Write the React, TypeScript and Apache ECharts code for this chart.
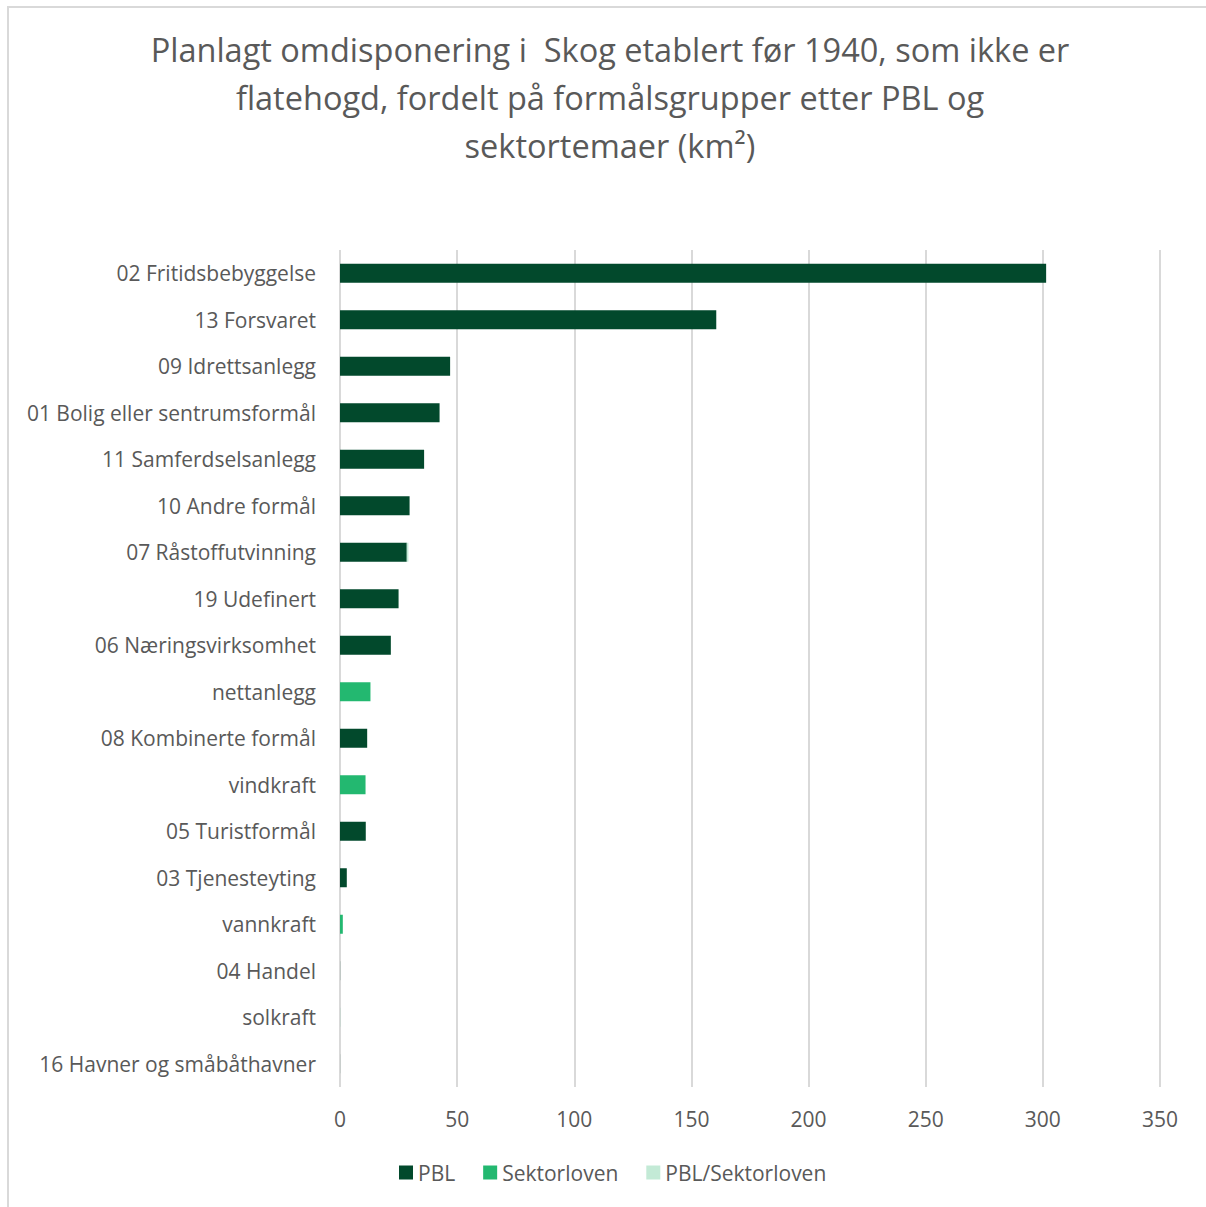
import React, { useEffect, useRef } from "react";
import * as echarts from "echarts";

const titleLines = [
  "Planlagt omdisponering i  Skog etablert før 1940, som ikke er",
  "flatehogd, fordelt på formålsgrupper etter PBL og",
  "sektortemaer (km²)",
];

const categories = [
  "02 Fritidsbebyggelse",
  "13 Forsvaret",
  "09 Idrettsanlegg",
  "01 Bolig eller sentrumsformål",
  "11 Samferdselsanlegg",
  "10 Andre formål",
  "07 Råstoffutvinning",
  "19 Udefinert",
  "06 Næringsvirksomhet",
  "nettanlegg",
  "08 Kombinerte formål",
  "vindkraft",
  "05 Turistformål",
  "03 Tjenesteyting",
  "vannkraft",
  "04 Handel",
  "solkraft",
  "16 Havner og småbåthavner",
];

const seriesNames = ["PBL", "Sektorloven", "PBL/Sektorloven"];

const pbl = [301.4, 160.6, 47.0, 42.5, 35.9, 29.7, 28.5, 25.0, 21.7, 0, 11.6, 0, 11.0, 2.9, 0, 0.05, 0, 0.03];
const sektorloven = [0, 0, 0, 0, 0, 0, 0, 0, 0, 13.0, 0, 10.9, 0, 0, 1.2, 0, 0.03, 0];
const pblSektorloven = [0, 0, 0, 0, 0, 0, 0.7, 0, 0, 0, 0, 0, 0, 0, 0, 0, 0, 0];

const xTicks = [0, 50, 100, 150, 200, 250, 300, 350];

const colors = ["#02492c", "#23b870", "#c3ead6"];

export default function App() {
  const ref = useRef<HTMLDivElement>(null);
  useEffect(() => {
    if (!ref.current) return;
    const chart = echarts.init(ref.current, null, { renderer: "svg" });
    const font = "'Open Sans', 'Noto Sans', sans-serif";
    const values = [pbl, sektorloven, pblSektorloven];
    chart.setOption({
      animation: false,
      textStyle: { fontFamily: font },
      title: {
        text: titleLines.join("\n"),
        left: 605,
        top: 20,
        textAlign: "center",
        textStyle: {
          fontFamily: font,
          fontSize: 32.5,
          fontWeight: "normal",
          color: "#595959",
          lineHeight: 48,
        },
      },
      legend: {
        data: seriesNames,
        left: 399,
        top: 1162,
        padding: 0,
        icon: "rect",
        itemWidth: 14,
        itemHeight: 14,
        itemGap: 28,
        textStyle: { fontFamily: font, fontSize: 21, color: "#595959" },
      },
      grid: { left: 340, right: 46, top: 250, bottom: 120, containLabel: false },
      xAxis: {
        type: "value",
        min: xTicks[0],
        max: xTicks[xTicks.length - 1],
        interval: 50,
        axisLine: { show: false },
        axisTick: { show: false },
        splitLine: { show: true, lineStyle: { color: "#d9d9d9", width: 2 } },
        axisLabel: { fontFamily: font, fontSize: 21, color: "#595959", margin: 21 },
      },
      yAxis: {
        type: "category",
        data: categories,
        inverse: true,
        axisLine: { show: false },
        axisTick: { show: false },
        axisLabel: { fontFamily: font, fontSize: 21, color: "#595959", margin: 24 },
      },
      series: seriesNames.map((name, i) => ({
        name,
        type: "bar",
        stack: "total",
        data: values[i],
        barWidth: 19,
        itemStyle: { color: colors[i] },
      })),
    });
    return () => chart.dispose();
  }, []);
  return (
    <div style={{ position: "fixed", left: 0, top: 0, width: 1206, height: 1207, background: "#fff" }}>
      <div
        style={{
          position: "absolute",
          left: 7,
          top: 6,
          width: 1199,
          height: 1201,
          borderLeft: "2px solid #d9d9d9",
          borderTop: "2px solid #d9d9d9",
          boxSizing: "border-box",
        }}
      />
      <div ref={ref} style={{ position: "absolute", left: 0, top: 0, width: 1206, height: 1207 }} />
    </div>
  );
}
